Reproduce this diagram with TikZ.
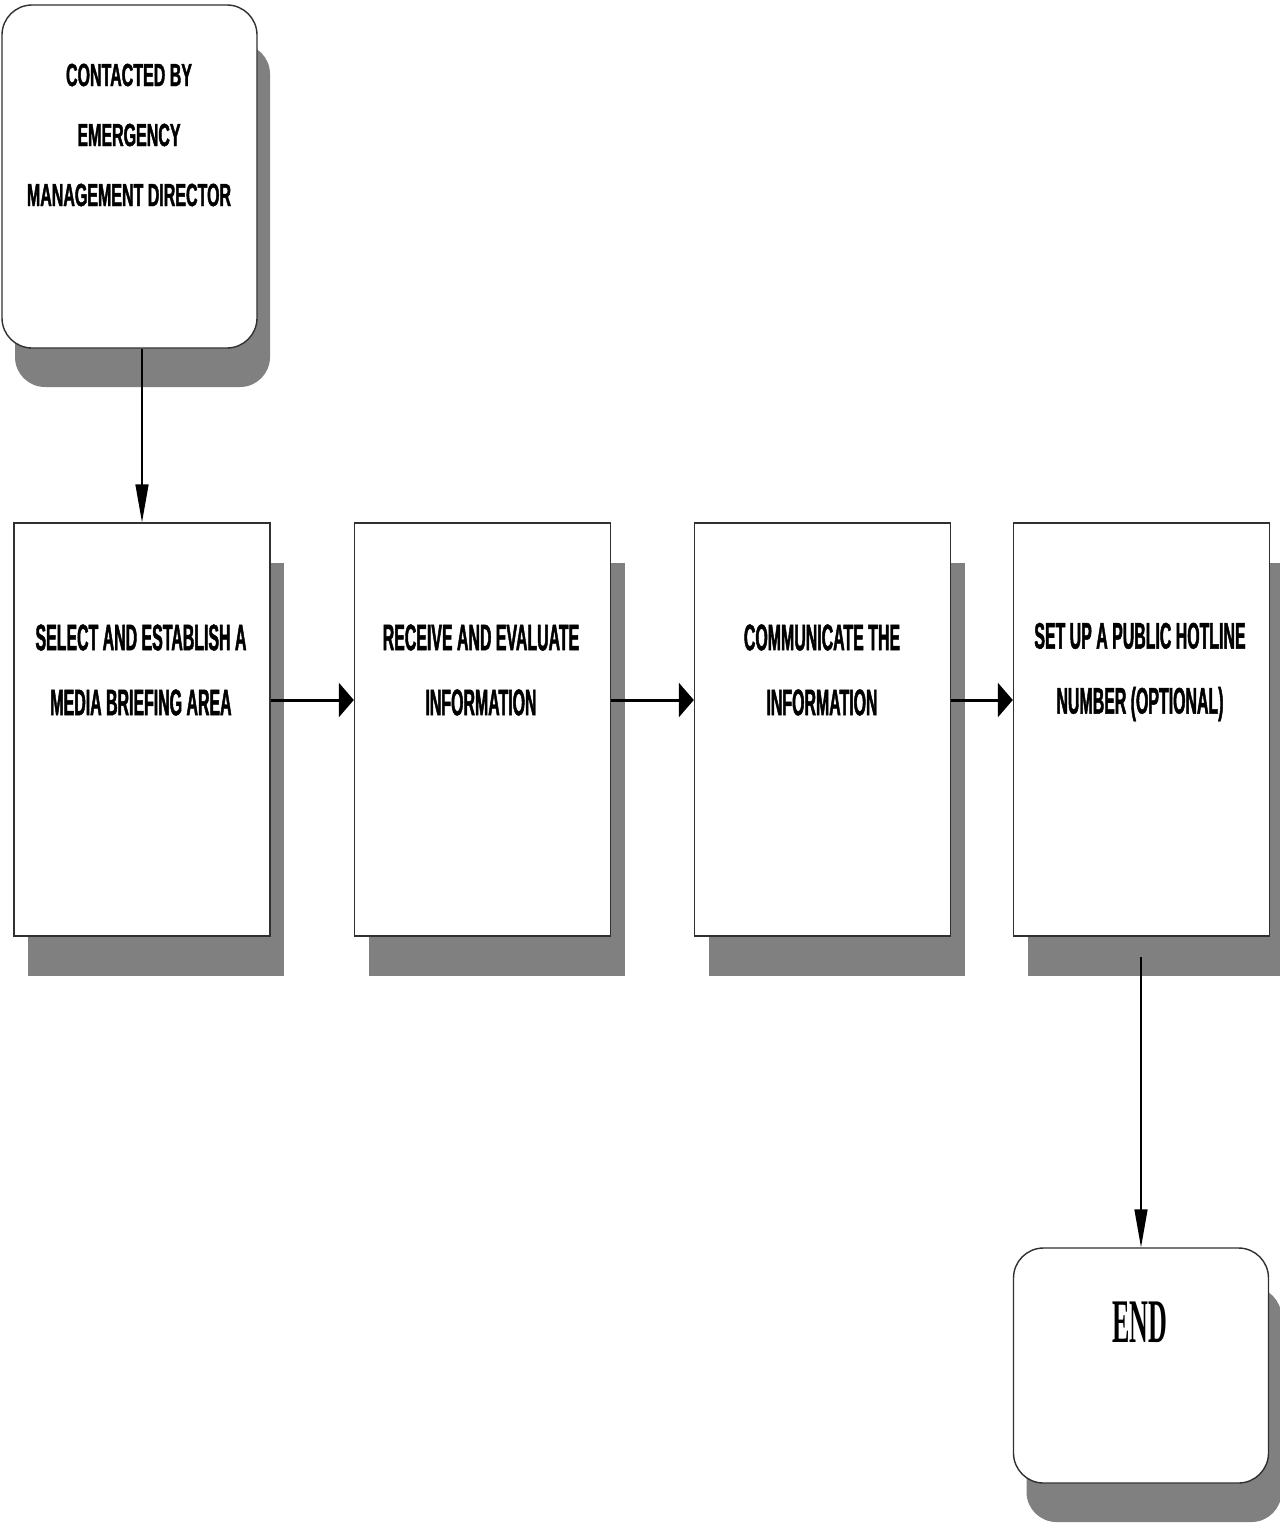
\documentclass[tikz,border=0pt]{standalone}
\usepackage{fontspec}
\setmainfont{Liberation Sans}
\newfontfamily\condA[FakeStretch=0.5,FakeBold=1.2]{Liberation Sans}
\newfontfamily\condB[FakeStretch=0.43,FakeBold=1.2]{Liberation Sans}
\newfontfamily\condS[FakeStretch=0.42]{Liberation Serif}
\usetikzlibrary{arrows.meta,shadows}
\definecolor{shade}{HTML}{808080}
\definecolor{edge}{HTML}{303030}
\tikzset{
  procbox/.style={draw=edge, line width=1.4pt, fill=white, inner sep=0pt,
    minimum width=256pt, minimum height=413pt,
    drop shadow={shadow xshift=14pt, shadow yshift=-40pt, opacity=1, fill=shade}},
  termbox/.style={draw=edge, line width=1.4pt, fill=white, inner sep=0pt,
    rounded corners=30pt, minimum width=255pt,
    drop shadow={shadow xshift=13pt, shadow yshift=-39pt, opacity=1, fill=shade}},
  lblA/.style={align=center, inner sep=0pt, font=\condA\bfseries\fontsize{32}{60}\selectfont},
  lblB/.style={align=center, inner sep=0pt, font=\condB\bfseries\fontsize{37}{65}\selectfont},
  lblS/.style={align=center, inner sep=0pt, font=\condS\bfseries\fontsize{62}{70}\selectfont},
  harrow/.style={line width=3pt, -{Triangle[length=15pt,width=34pt]}},
  varrow/.style={line width=1.5pt, -{Triangle[length=38pt,width=13pt]}},
}
\begin{document}
\begin{tikzpicture}[x=1pt,y=-1pt]
\useasboundingbox[fill=white] (0,0) rectangle (1280,1524);
% start
\node[termbox, minimum height=343pt] (start) at (129.5,176.5) {};
\node[lblA] (startlbl) at (129,135) {CONTACTED BY\\EMERGENCY\\MANAGEMENT DIRECTOR};
% process boxes
\node[procbox] (b1) at (142,729.5) {};
\node[procbox] (b2) at (482.5,729.5) {};
\node[procbox] (b3) at (822.5,729.5) {};
\node[procbox] (b4) at (1141.5,729.5) {};
\node[lblB] (l1) at (141,670) {SELECT AND ESTABLISH A\\MEDIA BRIEFING AREA};
\node[lblB] (l2) at (481,670) {RECEIVE AND EVALUATE\\INFORMATION};
\node[lblB] (l3) at (822,670) {COMMUNICATE THE\\INFORMATION};
\node[lblB] (l4) at (1140,672) {SET UP A PUBLIC HOTLINE\\NUMBER (OPTIONAL)};
% end
\node[termbox, minimum height=235pt] (end) at (1141,1365.5) {};
\node[lblS] (endlbl) at (1140,1322) {END};
% connectors
\draw[varrow] (start.south -| b1.north) -- (b1.north);
\draw[harrow] ([yshift=29.5pt]b1.east) -- ([yshift=29.5pt]b2.west);
\draw[harrow] ([yshift=29.5pt]b2.east) -- ([yshift=29.5pt]b3.west);
\draw[harrow] ([yshift=29.5pt]b3.east) -- ([yshift=29.5pt]b4.west);
\coordinate (b4out) at (1141,957);
\draw[varrow] (b4out) -- (end.north);
\end{tikzpicture}
\end{document}
